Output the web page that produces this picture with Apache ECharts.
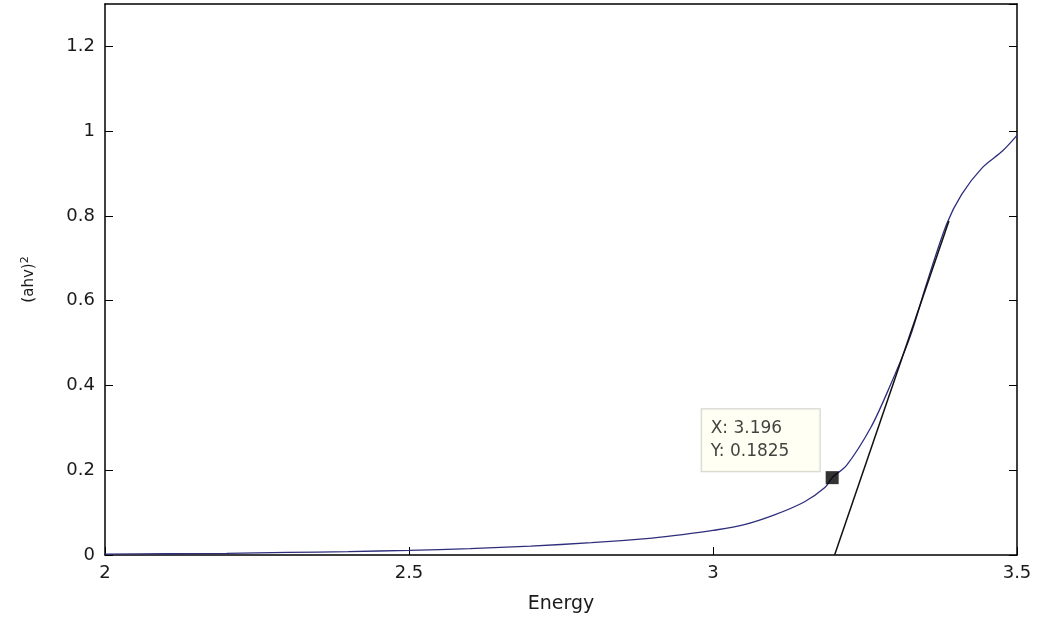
<!DOCTYPE html>
<html>
<head>
<meta charset="utf-8">
<script src="https://cdn.jsdelivr.net/npm/echarts@6/dist/echarts.min.js"></script>
<style>
  html, body { margin: 0; padding: 0; background: #fff; }
  #chart { width: 1039px; height: 619px; }
</style>
</head>
<body>
<div id="chart"></div>
<script>
// absorption curve
const energy = [2.0, 2.1, 2.2, 2.3, 2.4, 2.5, 2.6, 2.7, 2.8, 2.9, 2.95, 3.0, 3.05, 3.1, 3.15, 3.184, 3.196, 3.22, 3.26, 3.29, 3.324, 3.351, 3.384, 3.409, 3.443, 3.476, 3.5];
const absorb = [0.002, 0.003, 0.004, 0.006, 0.008, 0.011, 0.015, 0.021, 0.029, 0.04, 0.048, 0.058, 0.071, 0.094, 0.125, 0.159, 0.1825, 0.212, 0.302, 0.395, 0.514, 0.639, 0.78, 0.851, 0.914, 0.953, 0.99];

// tangent line used to find the band gap
const fitX = [3.2, 3.388];
const fitY = [0, 0.788];

// data tip
const tipX = 3.196;
const tipY = 0.1825;

const xTicks = [2, 2.5, 3, 3.5];
const yTicks = [0, 0.2, 0.4, 0.6, 0.8, 1, 1.2];

const font = "'DejaVu Sans', Verdana, sans-serif";

const chart = echarts.init(document.getElementById("chart"));
const option = {
  animation: false,
  backgroundColor: "#fff",
  grid: { left: 105, right: 22, top: 4, bottom: 63 },
  xAxis: [
    {
      type: "value",
      min: 2,
      max: 3.5,
      interval: 0.5,
      name: "Energy",
      nameLocation: "middle",
      nameGap: 40,
      nameTextStyle: { color: "#1a1a1a", fontSize: 19, fontFamily: font },
      axisLine: { show: true, onZero: false, lineStyle: { color: "#000", width: 1.5 } },
      axisTick: { show: true, inside: true, length: 8, lineStyle: { color: "#000" } },
      axisLabel: {
        color: "#1a1a1a",
        fontSize: 18,
        fontFamily: font,
        margin: 9,
        formatter: (v) => (xTicks.includes(v) ? String(v) : ""),
      },
      splitLine: { show: false },
    },
    {
      type: "value",
      position: "top",
      min: 2,
      max: 3.5,
      interval: 0.5,
      axisLine: { show: true, onZero: false, lineStyle: { color: "#000", width: 1.5 } },
      axisTick: { show: false },
      axisLabel: { show: false },
      splitLine: { show: false },
    },
  ],
  yAxis: [
    {
      type: "value",
      min: 0,
      max: 1.3,
      interval: 0.2,
      name: "{a|(ahv)}{s|2}",
      nameLocation: "middle",
      nameGap: 66,
      nameRotate: 90,
      nameTextStyle: {
        rich: {
          a: { fontSize: 15, color: "#1a1a1a", fontFamily: font },
          s: { fontSize: 11, color: "#1a1a1a", fontFamily: font, verticalAlign: "top", padding: [0, 0, 8, 0] },
        },
      },
      axisLine: { show: true, onZero: false, lineStyle: { color: "#000", width: 1.5 } },
      axisTick: { show: true, inside: true, length: 8, lineStyle: { color: "#000" } },
      axisLabel: {
        color: "#1a1a1a",
        fontSize: 18,
        fontFamily: font,
        margin: 10,
        showMaxLabel: false,
        formatter: (v) => {
          const r = Math.round(v * 10) / 10;
          return yTicks.includes(r) ? String(r) : "";
        },
      },
      splitLine: { show: false },
    },
    {
      type: "value",
      position: "right",
      min: 0,
      max: 1.3,
      interval: 0.2,
      axisLine: { show: true, onZero: false, lineStyle: { color: "#000", width: 1.5 } },
      axisTick: { show: true, inside: true, length: 8, lineStyle: { color: "#000" } },
      axisLabel: { show: false },
      splitLine: { show: false },
    },
  ],
  series: [
    {
      name: "curve",
      type: "line",
      smooth: 0.3,
      showSymbol: false,
      data: energy.map((x, i) => [x, absorb[i]]),
      lineStyle: { color: "#2e2e7c", width: 1.3 },
      z: 3,
    },
    {
      name: "fit",
      type: "line",
      showSymbol: false,
      data: fitX.map((x, i) => [x, fitY[i]]),
      lineStyle: { color: "#111", width: 1.5 },
      z: 4,
    },
    {
      name: "tip",
      type: "scatter",
      symbol: "rect",
      symbolSize: 13,
      itemStyle: { color: "#000" },
      data: [[tipX, tipY]],
      z: 5,
      label: {
        show: true,
        position: [-124, -62],
        formatter: "X: " + tipX + "\nY: " + tipY,
        color: "#111",
        fontSize: 17,
        fontFamily: font,
        lineHeight: 23,
        align: "left",
        verticalAlign: "top",
        width: 101,
        height: 46,
        padding: [8, 8, 8, 9],
        backgroundColor: "#fffff0",
        borderColor: "#c8c8c0",
        borderWidth: 1,
      },
    },
  ],
};
chart.setOption(option);
</script>
</body>
</html>
